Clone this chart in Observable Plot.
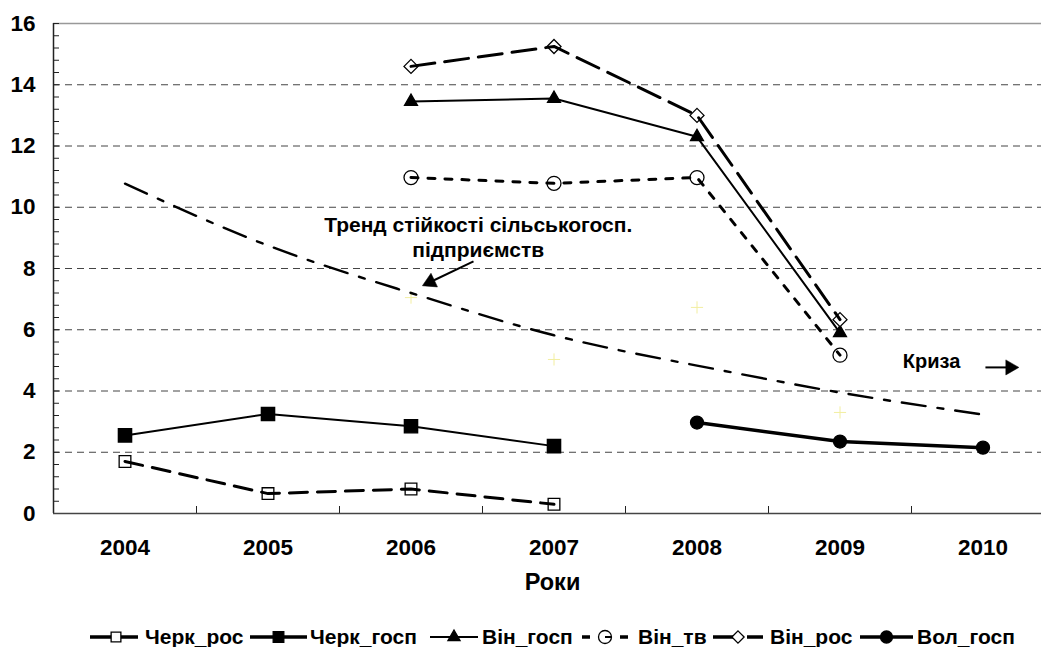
<!DOCTYPE html>
<html><head><meta charset="utf-8">
<script src="https://cdn.jsdelivr.net/npm/d3@7"></script>
<script src="https://cdn.jsdelivr.net/npm/@observablehq/plot@0.6"></script>
<style>
body{margin:0;background:#fff;font-family:Arial,"Liberation Sans",sans-serif;}
#chart svg{display:block;}
#legend{position:relative;width:1041px;height:27px;margin-top:3px;}
.item{position:absolute;top:0;height:27px;display:flex;align-items:center;font-weight:bold;font-size:21px;color:#000;white-space:nowrap;}
.item svg{display:block;}
</style></head>
<body><div id="chart"></div><div id="legend"></div>
<script>
const years = [2004, 2005, 2006, 2007, 2008, 2009, 2010];
const cherkRos  = [1.7, 0.65, 0.8, 0.3, null, null, null];
const cherkGosp = [2.55, 3.25, 2.85, 2.2, null, null, null];
const vinGosp   = [null, null, 13.45, 13.55, 12.3, 5.9, null];
const vinTv     = [null, null, 10.97, 10.78, 10.97, 5.17, null];
const vinRos    = [null, null, 14.6, 15.25, 13.0, 6.33, null];
const volGosp   = [null, null, null, null, 2.97, 2.35, 2.15];
const trend     = [10.77, 8.75, 7.2, 5.82, 4.83, 3.95, 3.23];
const faint     = [null, null, 7.05, 5.03, 6.73, 3.3, null];
const yTicks = [0, 2, 4, 6, 8, 10, 12, 14, 16];
const gridTicks = [2, 4, 6, 8, 10, 12, 14];
const minorTicks = d3.range(0, 16.001, 0.4);
const bounds = [2004.5, 2005.5, 2006.5, 2007.5, 2008.5, 2009.5];

const diamond2 = d3.symbolDiamond2 || "diamond";
const series = [
  {name: "Черк_рос",  values: cherkRos,  dash: "18,10", width: 3,   symbol: "square",   r: 6.6, fill: "white"},
  {name: "Черк_госп", values: cherkGosp, dash: null,    width: 2,   symbol: "square",   r: 7.5, fill: "black"},
  {name: "Він_госп",  values: vinGosp,   dash: null,    width: 2,   symbol: "triangle", r: 4.8, fill: "black"},
  {name: "Він_тв",    values: vinTv,     dash: "7,10",  width: 3,   symbol: "circle",   r: 7,   fill: "white"},
  {name: "Він_рос",   values: vinRos,    dash: "24,10", width: 3,   symbol: diamond2,   r: 6.3, fill: "white"},
  {name: "Вол_госп",  values: volGosp,   dash: null,    width: 3.5, symbol: "circle",   r: 6.5, fill: "black"}
];
const rows = v => years.map((x, i) => ({x, y: v[i]})).filter(d => d.y != null);

// annotations (data coordinates)
const notes = [
  {x: 2006.47, y: 9.42, t: "Тренд стійкості сільськогосп."},
  {x: 2006.47, y: 8.6, t: "підприємств"},
  {x: 2009.64, y: 4.96, t: "Криза"}
];
const shafts = [
  {x1: 2006.437, y1: 8.23, x2: 2006.135, y2: 7.56},
  {x1: 2010.017, y1: 4.77, x2: 2010.19, y2: 4.77}
];
const heads = [
  {x: 2006.135, y: 7.56, a: 244.5},
  {x: 2010.19, y: 4.77, a: 90}
];

const H = 620, plotTop = 23, plotBottom = 513, plotLeft = 53;
const marks = [
  Plot.ruleY(gridTicks, {stroke: "#444", strokeWidth: 1, strokeDasharray: "7,5"}),
  Plot.ruleY([16], {stroke: "#999", strokeWidth: 1.5}),
  Plot.ruleY(minorTicks, {stroke: "#222", strokeWidth: 1, insetRight: 1041 - plotLeft - 6}),
  Plot.ruleX(bounds, {stroke: "#222", strokeWidth: 1, insetTop: (plotBottom - plotTop) - 7}),
  Plot.ruleX([2003.5], {stroke: "#222", strokeWidth: 1.5}),
  Plot.ruleY([0], {stroke: "#444", strokeWidth: 1.5}),
  Plot.dot(rows(faint), {x: "x", y: "y", symbol: "plus", r: 4, stroke: "#f2eea0", strokeWidth: 1}),
  Plot.line(rows(trend), {x: "x", y: "y", curve: "natural", stroke: "black", strokeWidth: 2.4, strokeDasharray: "24,12,6,12"})
];
for (const s of series) {
  marks.push(Plot.dot(rows(s.values), {x: "x", y: "y", symbol: s.symbol, r: s.r, fill: s.fill, stroke: "black", strokeWidth: 1.3}));
}
for (const s of series) {
  marks.push(Plot.line(rows(s.values), {x: "x", y: "y", stroke: "black", strokeWidth: s.width, strokeDasharray: s.dash}));
}
marks.push(
  Plot.axisY(yTicks, {tickSize: 0, tickPadding: 18, label: null, fontSize: 22.5, fontWeight: "bold"}),
  Plot.axisX(years, {tickSize: 0, tickPadding: 26, label: null, tickFormat: d => String(d), fontSize: 22.5, fontWeight: "bold"}),
  Plot.text(["Роки"], {text: d => d, frameAnchor: "bottom", dy: 76, dx: 5, fontSize: 23.5, fontWeight: "bold"}),
  Plot.text(notes.slice(0, 2), {x: "x", y: "y", text: "t", fontSize: 21, fontWeight: "bold"}),
  Plot.text(notes.slice(2), {x: "x", y: "y", text: "t", fontSize: 20, fontWeight: "bold"}),
  Plot.link(shafts, {x1: "x1", y1: "y1", x2: "x2", y2: "y2", stroke: "black", strokeWidth: 2}),
  Plot.dot(heads, {x: "x", y: "y", rotate: "a", symbol: "triangle", r: 5.6, fill: "black", stroke: "black", strokeWidth: 0.5})
);

const chart = Plot.plot({
  width: 1041, height: H,
  marginLeft: plotLeft, marginRight: 0, marginTop: plotTop, marginBottom: H - plotBottom,
  x: {domain: [2003.5, 2010.5], range: [plotLeft, plotLeft + 7 * 143]},
  y: {domain: [0, 16], range: [plotBottom, plotTop]},
  style: {fontFamily: "Arial, 'Liberation Sans', sans-serif", fontWeight: "bold", fontSize: "21px", color: "black", background: "white"},
  marks
});
document.getElementById("chart").appendChild(chart);

// legend
const legendPos = [
  {s: 90, w: 52, t: 145}, {s: 250, w: 57, t: 310}, {s: 430, w: 48, t: 482},
  {s: 582, w: 46, t: 638}, {s: 713, w: 50, t: 770}, {s: 860, w: 53, t: 917}
];
const legendDash = ["22,4", null, null, "8,30", "30,4", null];
const legendR = [5.5, 6, 4.5, 6.5, 5.5, 6];
const leg = document.getElementById("legend");
series.forEach((s, i) => {
  const p = legendPos[i];
  const item = document.createElement("div");
  item.className = "item";
  item.style.left = p.s + "px";
  const svg = d3.create("svg").attr("width", p.w).attr("height", 20);
  svg.append("line").attr("x1", 0).attr("x2", p.w).attr("y1", 10).attr("y2", 10)
    .attr("stroke", "black").attr("stroke-width", i === 2 ? 2 : 3.5)
    .attr("stroke-dasharray", legendDash[i]);
  const sym = typeof s.symbol === "string"
    ? {square: d3.symbolSquare, triangle: d3.symbolTriangle, circle: d3.symbolCircle}[s.symbol]
    : s.symbol;
  svg.append("path").attr("transform", `translate(${p.w / 2},10)`)
    .attr("d", d3.symbol(sym, Math.PI * legendR[i] * legendR[i])())
    .attr("fill", s.fill).attr("stroke", "black").attr("stroke-width", 1.3);
  if (i === 3) {
    svg.append("line").attr("x1", p.w / 2).attr("x2", p.w / 2 + 6).attr("y1", 10).attr("y2", 10).attr("stroke", "black").attr("stroke-width", 2);
  }
  item.appendChild(svg.node());
  const lab = document.createElement("span");
  lab.textContent = s.name;
  lab.style.marginLeft = (p.t - p.s - p.w) + "px";
  item.appendChild(lab);
  leg.appendChild(item);
});
</script>
</body></html>
